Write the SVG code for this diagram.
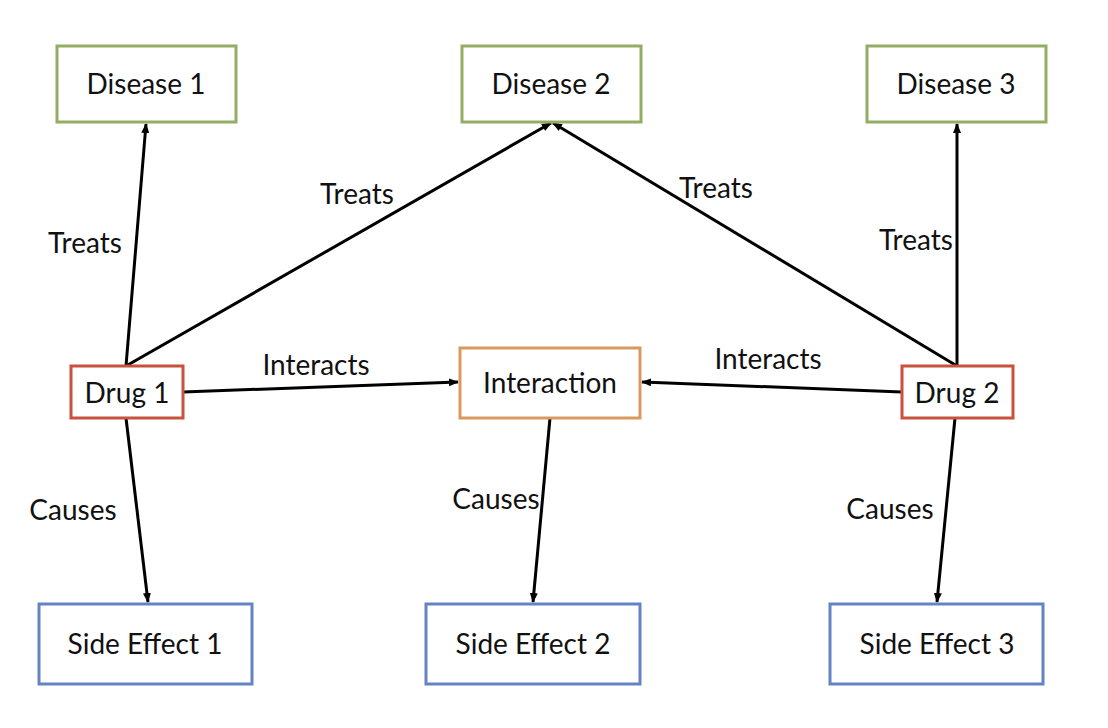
<svg xmlns="http://www.w3.org/2000/svg" width="1108" height="728" viewBox="0 0 1108 728">
<defs>
<marker id="ah" markerWidth="10" markerHeight="10" refX="9" refY="5" orient="auto" markerUnits="userSpaceOnUse">
<path d="M0,1 L10,5 L0,9 Z" fill="#000"/>
</marker>
<style>
text{font-family:Lato,"Liberation Sans",sans-serif;font-size:28px;fill:#111;text-anchor:middle}
.box{fill:#fff;stroke-width:3}
.dis{stroke:#93AE64}
.drug{stroke:#C9513E}
.int{stroke:#D89A60}
.se{stroke:#6483C4}
.c{stroke:#000;stroke-width:3;fill:none;marker-end:url(#ah)}
</style>
</defs>
<rect width="1108" height="728" fill="#fff"/>
<g id="connectors">
<line class="c" x1="126" y1="366" x2="146" y2="124"/>
<line class="c" x1="126" y1="366" x2="551" y2="123"/>
<line class="c" x1="957" y1="366" x2="553" y2="123"/>
<line class="c" x1="957" y1="366" x2="957" y2="124"/>
<line class="c" x1="183" y1="392" x2="458" y2="382"/>
<line class="c" x1="902" y1="392" x2="642" y2="382"/>
<line class="c" x1="126" y1="418" x2="148" y2="602"/>
<line class="c" x1="550" y1="418" x2="533" y2="602"/>
<line class="c" x1="955" y1="418" x2="937" y2="602"/>
<text x="85" y="253">Treats</text>
<text x="357" y="204">Treats</text>
<text x="716" y="198">Treats</text>
<text x="916" y="250">Treats</text>
<text x="316" y="375">Interacts</text>
<text x="768" y="369">Interacts</text>
<text x="73" y="520">Causes</text>
<text x="496" y="509">Causes</text>
<text x="890" y="519">Causes</text>
</g>
<g id="disease1"><rect class="box dis" x="57" y="46" width="179" height="76"/><text x="146" y="94">Disease 1</text></g>
<g id="disease2"><rect class="box dis" x="462" y="46" width="179" height="76"/><text x="551" y="94">Disease 2</text></g>
<g id="disease3"><rect class="box dis" x="867" y="46" width="179" height="76"/><text x="956" y="94">Disease 3</text></g>
<g id="drug1"><rect class="box drug" x="71" y="366" width="112" height="52"/><text x="127" y="403">Drug 1</text></g>
<g id="interaction"><rect class="box int" x="460" y="348" width="180" height="70"/><text x="550" y="393">Interaction</text></g>
<g id="drug2"><rect class="box drug" x="902" y="366" width="111" height="52"/><text x="957" y="403">Drug 2</text></g>
<g id="sideeffect1"><rect class="box se" x="39" y="604" width="213" height="80"/><text x="145" y="654">Side Effect 1</text></g>
<g id="sideeffect2"><rect class="box se" x="426" y="604" width="214" height="80"/><text x="533" y="654">Side Effect 2</text></g>
<g id="sideeffect3"><rect class="box se" x="830" y="604" width="213" height="80"/><text x="937" y="654">Side Effect 3</text></g>
</svg>
